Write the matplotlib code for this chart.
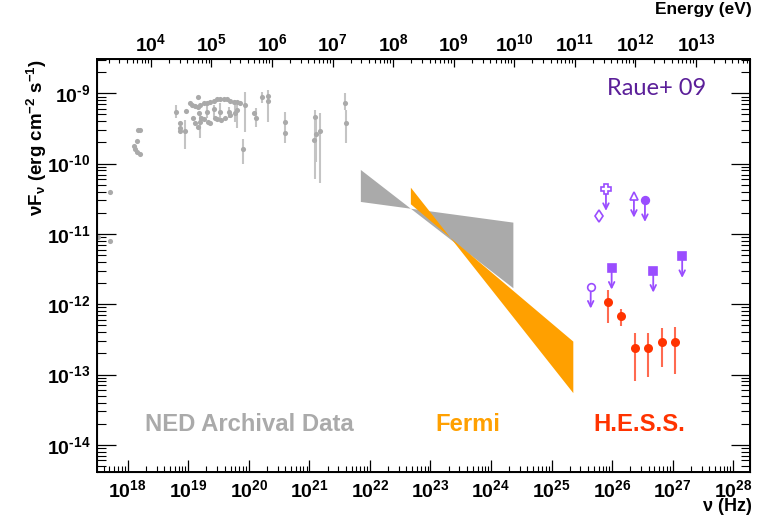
import numpy as np
import matplotlib
matplotlib.use("Agg")
from matplotlib import pyplot as plt
from matplotlib.ticker import FuncFormatter, LogLocator, NullFormatter

# Planck constant in eV s, used for the top energy axis
H_EV = 4.1357e-15

# NED archival data (log10 nu [Hz], log10 nuFnu [erg cm-2 s-1])
ned_lognu = [17.508, 17.715, 17.715, 18.172, 18.210, 18.155, 18.099, 18.116, 18.155, 18.198,
             18.804, 18.858, 18.858, 18.858, 18.952, 18.964, 19.162,
             19.023, 19.063, 19.106, 19.155, 19.200, 19.254, 19.310, 19.365, 19.419,
             19.475, 19.530, 19.584, 19.640, 19.695, 19.749, 19.805, 19.848,
             19.073, 19.117, 19.162, 19.172, 19.200, 19.216, 19.254, 19.310, 19.327, 19.365,
             19.419, 19.436, 19.475, 19.530, 19.546, 19.612, 19.667, 19.683, 19.777, 19.805,
             19.942, 19.898, 20.091, 20.119, 20.218, 20.317, 20.317, 20.591, 20.591,
             21.086, 21.081, 21.114, 21.180, 21.592, 21.609]
ned_logf = [-11.038, -10.403, -11.104, -9.526, -9.526, -9.678, -9.749, -9.796, -9.830, -9.859,
            -9.262, -9.426, -9.489, -9.536, -9.532, -9.252, -9.057,
            -9.142, -9.166, -9.181, -9.190, -9.166, -9.142, -9.134, -9.119, -9.105,
            -9.085, -9.077, -9.077, -9.085, -9.109, -9.119, -9.128, -9.134,
            -9.355, -9.426, -9.475, -9.284, -9.404, -9.355, -9.370, -9.270, -9.412, -9.418,
            -9.227, -9.355, -9.370, -9.262, -9.380, -9.347, -9.262, -9.308, -9.284, -9.237,
            -9.166, -9.792, -9.284, -9.355, -9.057, -9.034, -9.109, -9.408, -9.564,
            -9.333, -9.664, -9.579, -9.532, -9.134, -9.426]

# NED error bars (log nu, upper, lower)
bar_lognu = [18.804, 18.952, 19.200, 19.310, 19.419, 19.530, 19.667, 19.777, 19.805, 19.942,
             19.898, 20.119, 20.218, 20.317, 20.591, 21.086, 21.114, 21.180, 21.592, 21.609]
bar_hi = [-9.166, -9.380, -9.308, -9.166, -9.166, -9.142, -9.190, -9.095, -9.166, -8.986,
          -9.650, -9.213, -8.986, -8.953, -9.262, -9.237, -9.380, -9.276, -8.991, -9.237]
bar_lo = [-9.355, -9.796, -9.635, -9.355, -9.333, -9.380, -9.355, -9.404, -9.497, -9.546,
          -10.005, -9.475, -9.142, -9.404, -9.711, -10.222, -9.972, -10.271, -9.237, -9.702]

# butterflies: [log nu start, log nu end], steep edge and flat edge
egret_lognu = [21.851, 24.370]
egret_steep = [-10.090, -11.772]
egret_flat = [-10.545, -10.839]
fermi_lognu = [22.677, 25.360]
fermi_steep = [-10.342, -13.264]
fermi_flat = [-10.578, -12.531]

# H.E.S.S. spectrum
hess_lognu = [25.937, 26.152, 26.378, 26.597, 26.818, 27.038]
hess_logf = [-11.962, -12.166, -12.625, -12.616, -12.531, -12.539]
hess_hi = [-11.796, -12.070, -12.411, -12.411, -12.340, -12.326]
hess_lo = [-12.269, -12.303, -13.085, -13.037, -12.886, -12.994]

# upper limits from other IACTs
ul_lognu = [25.899, 26.361, 26.543, 25.993, 25.647, 26.680, 27.158]
ul_logf = [-10.360, -10.456, -10.517, -11.479, -11.749, -11.522, -11.313]
ul_marker = ["P", "^", "o", "s", "o", "s", "s"]
ul_filled = [False, False, True, True, False, True, True]
diam_lognu = 25.784
diam_logf = -10.740

plt.rcParams["font.family"] = ["Liberation Sans", "DejaVu Sans"]
plt.rcParams["font.weight"] = "bold"
plt.rcParams["mathtext.fontset"] = "custom"
plt.rcParams["mathtext.rm"] = "Liberation Sans:bold"
plt.rcParams["mathtext.it"] = "Liberation Sans:bold"
plt.rcParams["mathtext.bf"] = "Liberation Sans:bold"
plt.rcParams["mathtext.default"] = "rm"

gray = "#aaaaaa"
orange = "#ffa000"
red = "#ff3300"
purple = "#9a4dff"

fig = plt.figure(figsize=(7.61, 5.16), dpi=100)
ax = fig.add_axes([0.128, 0.0847, 0.8577, 0.8004])
ax.set_xscale("log")
ax.set_yscale("log")
xmin, xmax = 10 ** 17.5, 10 ** 28.28
ax.set_xlim(xmin, xmax)
ax.set_ylim(10 ** -14.39, 10 ** -8.516)

# NED points
nu = 10 ** np.array(ned_lognu)
f = 10 ** np.array(ned_logf)
ax.vlines(10 ** np.array(bar_lognu), 10 ** np.array(bar_lo), 10 ** np.array(bar_hi),
          color="#c4c4c4", lw=1.5, zorder=2)
ax.plot(nu, f, "o", color=gray, ms=3.7, mec="none", zorder=3)

# butterflies (self-crossing polygon gives the bow-tie)
ex = 10 ** np.array(egret_lognu)
ax.fill([ex[0], ex[1], ex[1], ex[0]],
        [10 ** egret_steep[0], 10 ** egret_steep[1], 10 ** egret_flat[1], 10 ** egret_flat[0]],
        color=gray, lw=0, zorder=2)
fx = 10 ** np.array(fermi_lognu)
ax.fill([fx[0], fx[1], fx[1], fx[0]],
        [10 ** fermi_steep[0], 10 ** fermi_steep[1], 10 ** fermi_flat[1], 10 ** fermi_flat[0]],
        color=orange, lw=0, zorder=3)

# upper limits
for lx, ly, m, fl in zip(ul_lognu, ul_logf, ul_marker, ul_filled):
    x, y = 10 ** lx, 10 ** ly
    ax.annotate("", xy=(x, y / 2.05), xytext=(x, y),
                arrowprops=dict(arrowstyle="->", color=purple, lw=1.3,
                                shrinkA=3, shrinkB=0, mutation_scale=10))
    ax.plot(x, y, m, ms=6.5 if m == "P" else 5.5, mec=purple, mew=1.2,
            mfc=purple if fl else "white", zorder=5)
dx, dy = 10 ** diam_lognu, 10 ** diam_logf
ax.vlines(dx, dy / 1.2, dy * 1.2, color=purple, lw=1.2)
ax.plot(dx, dy, "d", ms=6, mec=purple, mfc="white", mew=1.2, zorder=5)

# H.E.S.S.
hx = 10 ** np.array(hess_lognu)
hy = 10 ** np.array(hess_logf)
ax.vlines(hx, 10 ** np.array(hess_lo), 10 ** np.array(hess_hi), color="#ff6a50", lw=1.5, zorder=4)
ax.plot(hx, hy, "o", color=red, ms=6.5, mec="none", zorder=5)

# labels inside the frame
ax.text(0.2321, 0.1165, "NED Archival Data", color=gray, fontsize=17.2, ha="center", va="center",
        transform=ax.transAxes)
ax.text(0.5681, 0.1165, "Fermi", color=orange, fontsize=17.2, ha="center", va="center",
        transform=ax.transAxes)
ax.text(0.8307, 0.1165, "H.E.S.S.", color=red, fontsize=17.2, ha="center", va="center",
        transform=ax.transAxes)
ax.text(0.857, 0.930, "Raue+ 09", color="#5b1f99", fontsize=17, fontweight="normal",
        family=["Lato", "DejaVu Sans"], ha="center", va="center", transform=ax.transAxes)


def pow_label(v, pos):
    e = int(round(np.log10(v)))
    if e < 0:
        return r"$10^{\text{-}%d}$" % (-e)  # plain hyphen like the original
    return r"$10^{%d}$" % e


pow_fmt = FuncFormatter(pow_label)
ax.xaxis.set_major_locator(LogLocator(base=10, numticks=20))
ax.xaxis.set_minor_locator(LogLocator(base=10, subs=np.arange(2, 10), numticks=20))
ax.yaxis.set_major_locator(LogLocator(base=10, numticks=20))
ax.yaxis.set_minor_locator(LogLocator(base=10, subs=np.arange(2, 10), numticks=20))
ax.xaxis.set_major_formatter(pow_fmt)
ax.yaxis.set_major_formatter(pow_fmt)
ax.xaxis.set_minor_formatter(NullFormatter())
ax.yaxis.set_minor_formatter(NullFormatter())
ax.tick_params(axis="x", which="major", direction="in", length=8.4, width=0.9, top=False,
               labelsize=14, pad=5.2)
ax.tick_params(axis="x", which="minor", direction="in", length=4.2, width=0.8, top=False)
ax.tick_params(axis="y", which="major", direction="in", length=13.4, width=0.9, right=True,
               labelsize=14, pad=5)
ax.tick_params(axis="y", which="minor", direction="in", length=6.7, width=0.8, right=True)
for s in ax.spines.values():
    s.set_linewidth(1.4)

# top axis in energy
ax2 = ax.twiny()
ax2.set_xscale("log")
ax2.set_xlim(xmin * H_EV, xmax * H_EV)
ax2.xaxis.set_major_locator(LogLocator(base=10, numticks=20))
ax2.xaxis.set_minor_locator(LogLocator(base=10, subs=np.arange(2, 10), numticks=20))
ax2.xaxis.set_major_formatter(pow_fmt)
ax2.xaxis.set_minor_formatter(NullFormatter())
ax2.tick_params(axis="x", which="major", direction="in", length=6, width=0.9, labelsize=14, pad=3)
ax2.tick_params(axis="x", which="minor", direction="in", length=3, width=0.8)

fig.text(0.988, 0.019, r"$\nu$ (Hz)", fontsize=13, ha="right", va="center")
fig.text(0.988, 0.982, "Energy (eV)", fontsize=12.5, ha="right", va="center")
fig.text(0.0486, 0.885, r"$\nu$F$_{\nu}$ (erg cm$^{-2}$ s$^{-1}$)", fontsize=13.5, rotation=90,
         ha="center", va="top")

plt.savefig("out.png", dpi=100)
